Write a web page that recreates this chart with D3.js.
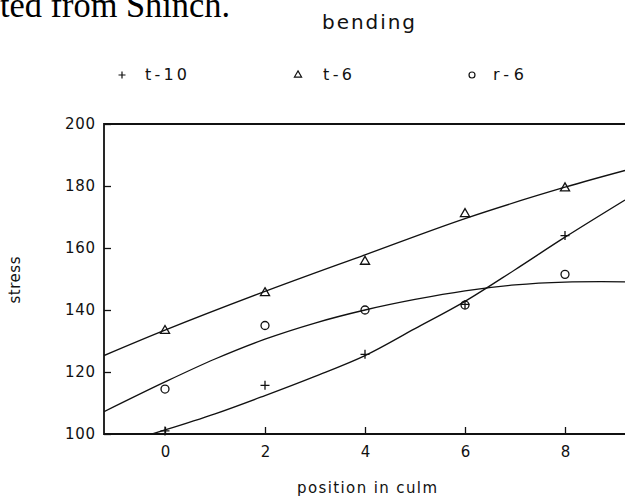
<!DOCTYPE html>
<html>
<head>
<meta charset="utf-8">
<script src="https://cdn.jsdelivr.net/npm/d3@7"></script>
<style>
  body { margin: 0; background: #fff; }
  text { font-family: "DejaVu Sans", sans-serif; fill: #111; }
</style>
</head>
<body>
<div id="chart"></div>
<script>
// bending stress vs position in culm
// measured points at each position
const positions = [0, 2, 4, 6, 8];
const t10 = [101, 115.7, 125.7, 141.8, 164];
const t6 = [133.3, 145.5, 155.6, 171, 179.3];
const r6 = [114.5, 135, 140, 141.6, 151.5];

// fitted curves
const t10FitX = [-0.27, 0, 1, 2, 3, 4, 5, 6, 7, 8, 9.2];
const t10FitY = [100, 101.3, 106.5, 112.4, 118.6, 125.3, 134, 142.8, 153, 163.5, 175.5];
const t6FitX = [-1.22, 0, 2, 4, 6, 8, 9.2];
const t6FitY = [125.3, 133.5, 146, 157.8, 169.5, 179.6, 185];
const r6FitX = [-1.22, 0, 1, 2, 3, 4, 5, 6, 7, 8, 9.2];
const r6FitY = [107.2, 116.8, 124.2, 130.6, 135.8, 140, 143.4, 146.2, 148.1, 149, 149.1];

const seriesNames = ["t-10", "t-6", "r-6"];
const xTicks = [0, 2, 4, 6, 8];
const yTicks = [100, 120, 140, 160, 180, 200];

let width = 625;
let height = 500;

const svg = d3.select("#chart")
    .append("svg")
    .attr("width", width)
    .attr("height", height);

const x = d3.scaleLinear().domain([-1.22, 9.2]).range([104, 625]);
const y = d3.scaleLinear().domain([100, 200]).range([434, 124]);

// scanned page text, cut off at the top like the reference
svg.append("text")
    .attr("x", 0)
    .attr("y", 17)
    .attr("textLength", 230)
    .attr("lengthAdjust", "spacingAndGlyphs")
    .style("font-family", "'Liberation Serif', serif")
    .style("font-size", "36px")
    .style("fill", "#000")
    .text("ted from Shinch.");

// title
svg.append("text")
    .attr("x", 322)
    .attr("y", 29)
    .attr("textLength", 93)
    .style("font-size", "20px")
    .text("bending");

// legend
const symPlus = "M-3.5,0H3.5M0,-3.5V3.5";
const legendX = [122, 298, 472];
const legendTextX = [145, 323, 493];
const legendLen = [42, 29, 31];
const legendSym = [
    symPlus,
    d3.symbol(d3.symbolTriangle, 22)(),
    d3.symbol(d3.symbolCircle, 28)()
];
seriesNames.forEach(function (name, i) {
    svg.append("path")
        .attr("d", legendSym[i])
        .attr("transform", "translate(" + legendX[i] + ",75)")
        .attr("fill", "none")
        .attr("stroke", "#111")
        .attr("stroke-width", 1.2);
    svg.append("text")
        .attr("x", legendTextX[i])
        .attr("y", 80)
        .attr("textLength", legendLen[i])
        .style("font-size", "16px")
        .text(name);
});

// axes, ticks pointing inward
const xAxis = svg.append("g")
    .attr("transform", "translate(0,434)")
    .call(d3.axisBottom(x).tickValues(xTicks).tickSizeInner(-7).tickSizeOuter(0).tickPadding(12));
const yAxis = svg.append("g")
    .attr("transform", "translate(104,0)")
    .call(d3.axisLeft(y).tickValues(yTicks).tickSizeInner(-7).tickSizeOuter(0).tickPadding(9));

[xAxis, yAxis].forEach(function (g) {
    g.select(".domain").remove();
    g.selectAll("line").attr("stroke", "#111").attr("stroke-width", 1.3);
    g.selectAll("text")
        .style("font-family", "'DejaVu Sans', sans-serif")
        .style("font-size", "15px")
        .attr("fill", "#111");
});
yAxis.selectAll("text").attr("textLength", 30);

// frame: left, bottom, top
svg.append("path")
    .attr("d", "M" + x.range()[1] + "," + y(200) + "H" + x.range()[0] + "V" + y(100) + "H" + x.range()[1])
    .attr("fill", "none")
    .attr("stroke", "#111")
    .attr("stroke-width", 1.8);

// axis titles
svg.append("text")
    .attr("x", 297)
    .attr("y", 493)
    .attr("textLength", 140)
    .style("font-size", "15px")
    .text("position in culm");

svg.append("text")
    .attr("transform", "translate(20,280) rotate(-90)")
    .attr("text-anchor", "middle")
    .attr("textLength", 47)
    .style("font-size", "15px")
    .text("stress");

// fitted curves
svg.append("clipPath").attr("id", "plotClip")
    .append("rect")
    .attr("x", x.range()[0]).attr("y", y(200))
    .attr("width", x.range()[1] - x.range()[0])
    .attr("height", y(100) - y(200));

const line = d3.line()
    .x(d => x(d[0]))
    .y(d => y(d[1]))
    .curve(d3.curveCatmullRom.alpha(0.5));

[[t10FitX, t10FitY], [t6FitX, t6FitY], [r6FitX, r6FitY]].forEach(function (s) {
    svg.append("path")
        .datum(d3.zip(s[0], s[1]))
        .attr("d", line)
        .attr("clip-path", "url(#plotClip)")
        .attr("fill", "none")
        .attr("stroke", "#111")
        .attr("stroke-width", 1.3);
});

// markers
const markerSym = [
    "M-4.5,0H4.5M0,-4.5V4.5",
    d3.symbol(d3.symbolTriangle, 36)(),
    d3.symbol(d3.symbolCircle, 50)()
];
[t10, t6, r6].forEach(function (vals, i) {
    svg.selectAll(null)
        .data(d3.zip(positions, vals))
        .enter()
        .append("path")
        .attr("d", markerSym[i])
        .attr("transform", d => "translate(" + x(d[0]) + "," + y(d[1]) + ")")
        .attr("fill", "none")
        .attr("stroke", "#111")
        .attr("stroke-width", 1.3);
});
</script>
</body>
</html>
